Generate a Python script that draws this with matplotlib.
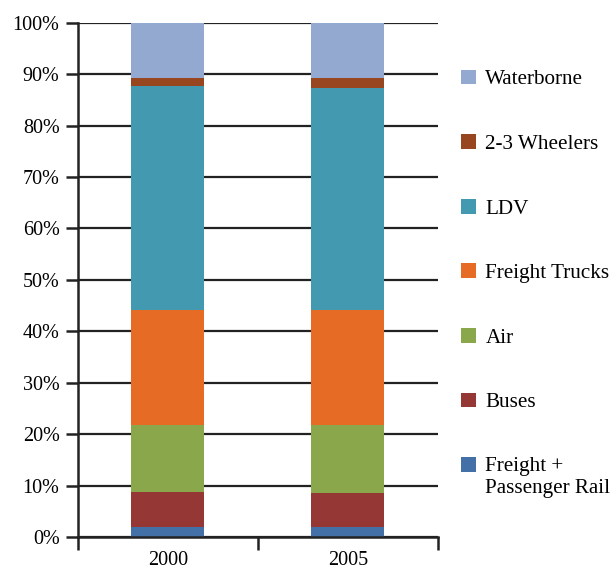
import matplotlib.pyplot as plt
import numpy as np
from matplotlib.ticker import FuncFormatter

plt.rcParams["font.family"] = ["Liberation Serif", "DejaVu Serif"]

# data (shares in %)
years = ["2000", "2005"]
modes = ["Freight +\nPassenger Rail", "Buses", "Air", "Freight Trucks",
         "LDV", "2-3 Wheelers", "Waterborne"]
rail = [1.9, 1.9]
buses = [6.85, 6.65]
air = [13.05, 13.25]
trucks = [22.4, 22.4]
ldv = [43.5, 43.2]
wheelers = [1.6, 1.9]
waterborne = [10.7, 10.7]
colors = ["#4470A8", "#953735", "#8BA74C", "#E66C25",
          "#4299B0", "#974620", "#93A9CF"]

series = [rail, buses, air, trucks, ldv, wheelers, waterborne]

fig = plt.figure(figsize=(6.11, 5.70), dpi=100)
ax = fig.add_axes([0.127, 0.058, 0.59, 0.902])

x = np.arange(len(years))
bottom = np.zeros(len(years))
handles = []
for vals, lab, col in zip(series, modes, colors):
    b = ax.bar(x, vals, width=0.405, bottom=bottom, color=col, label=lab, zorder=3)
    handles.append(b)
    bottom += np.array(vals)

ax.set_ylim(0, 100)
ax.set_xlim(-0.5, 1.5)
ax.set_yticks(np.arange(0, 101, 10))
ax.yaxis.set_major_formatter(FuncFormatter(lambda v, p: f"{v:.0f}%"))
ax.set_xticks(x)
ax.set_xticklabels(years)
ax.set_xticks([-0.5, 0.5, 1.5], minor=True)
ax.tick_params(axis="x", which="major", length=0, pad=10, labelsize=14.5)
ax.tick_params(axis="x", which="minor", length=9, width=1.8, color="#222222")
ax.tick_params(axis="y", length=9, width=1.8, color="#222222", labelsize=14.5, pad=4)
ax.yaxis.grid(True, color="#222222", linewidth=1.6, zorder=0)
ax.set_axisbelow(True)
for s in ["top", "right"]:
    ax.spines[s].set_visible(False)
for s in ["left", "bottom"]:
    ax.spines[s].set_color("#222222")
    ax.spines[s].set_linewidth(1.8)
    ax.spines[s].set_zorder(4)

leg = fig.legend(handles[::-1], modes[::-1], loc="upper left",
                 bbox_to_anchor=(0.755, 0.878), frameon=False, fontsize=15.2,
                 handlelength=0.71, handleheight=0.71, handletextpad=0.43,
                 labelspacing=2.12, borderpad=0, borderaxespad=0)
# put the marker of the two-line entry next to its first line
for col in leg._legend_handle_box.get_children():
    for row in col.get_children():
        txt = row.get_children()[1].get_children()[0]
        if "\n" in txt.get_text():
            row.align = "top"

fig.savefig("out.png", dpi=100)
